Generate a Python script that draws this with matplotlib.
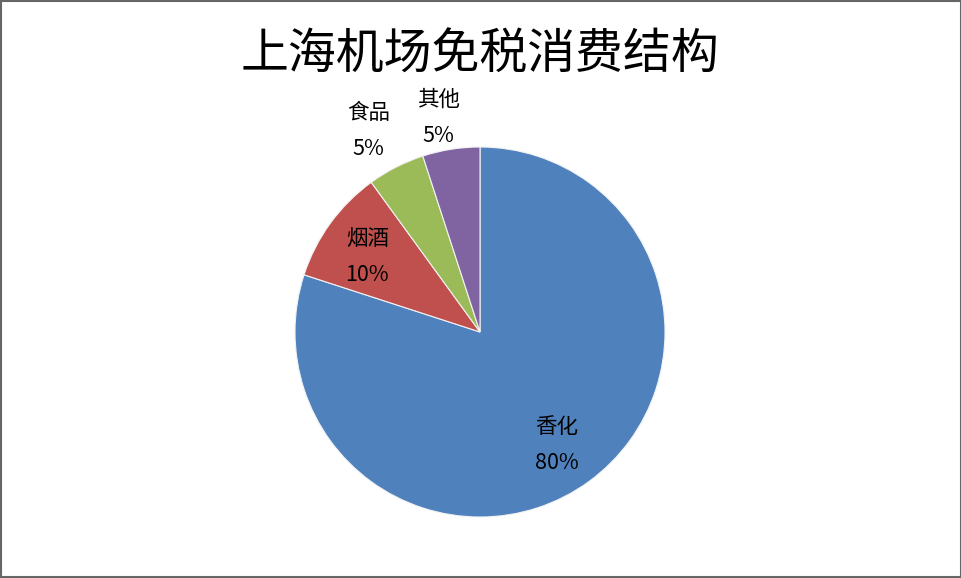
import matplotlib
matplotlib.use('Agg')
import matplotlib.pyplot as plt
import numpy as np

plt.rcParams['font.family'] = ['Noto Sans CJK SC', 'DejaVu Sans']

# data
categories = ['香化', '烟酒', '食品', '其他']
shares = [80, 10, 5, 5]
colors = ['#4F81BD', '#C0504D', '#9BBB59', '#8064A2']
label_dist = [0.74, 0.73, 1.24, 1.18]
label_turn = [-1.7, 2.5, 2.0, 2.0]  # small angular nudge, degrees

fig = plt.figure(figsize=(9.62, 5.78), dpi=100)
fig.patch.set_facecolor('white')

# pie axes: radius 1 -> ~185 px, centre at (480, 332) px
W, H = 962, 578
size = 555
ax = fig.add_axes([(480 - size / 2) / W, (H - 332 - size / 2) / H, size / W, size / H])
wedges, _ = ax.pie(shares, colors=colors, startangle=90, counterclock=False,
                   wedgeprops=dict(edgecolor='#f2f2f2', linewidth=0.8))
ax.set_xlim(-1.5, 1.5)
ax.set_ylim(-1.5, 1.5)
ax.set_aspect('equal')
ax.axis('off')

# category + percentage labels
for w, name, val, d, t in zip(wedges, categories, shares, label_dist, label_turn):
    ang = np.deg2rad((w.theta1 + w.theta2) / 2 + t)
    x, y = d * np.cos(ang), d * np.sin(ang)
    ax.text(x, y + 0.097, name, ha='center', va='center', fontsize=15.5, color='black')
    ax.text(x, y - 0.097, f'{val}%', ha='center', va='center', fontsize=15.5, color='black')

fig.text(480 / W, 1 - 55 / H, '上海机场免税消费结构', ha='center', va='center',
         fontsize=34.5, color='black')

# outer frame
fig.patches.append(plt.Rectangle((0.001, 0.002), 0.998, 0.996, transform=fig.transFigure,
                                 fill=False, edgecolor='#666666', linewidth=1.5))

fig.savefig('out.png', dpi=100)
